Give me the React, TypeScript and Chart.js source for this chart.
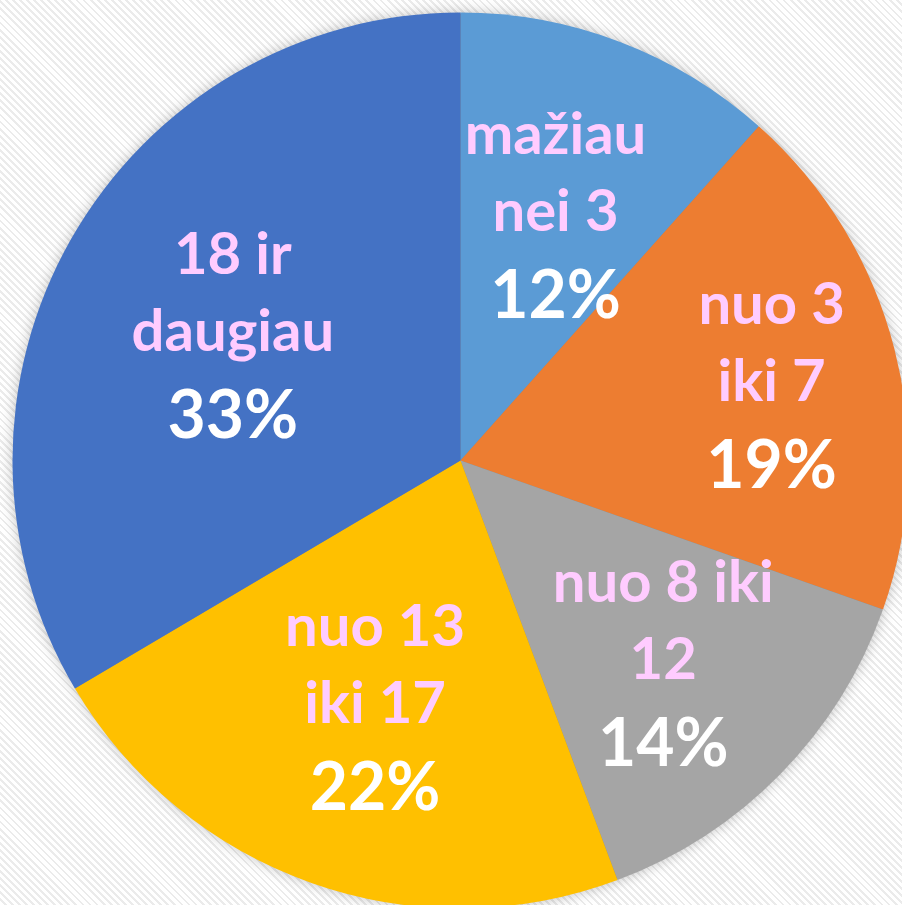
import React, { useEffect, useRef } from "react";
import { Chart, registerables } from "chart.js";

Chart.register(...registerables);

const categories: string[][] = [
  ["mažiau", "nei 3"],
  ["nuo 3", "iki 7"],
  ["nuo 8 iki", "12"],
  ["nuo 13", "iki 17"],
  ["18 ir", "daugiau"],
];
const values: number[] = [11.6, 18.8, 13.9, 22.2, 33.5];
const percentLabels: string[] = ["12%", "19%", "14%", "22%", "33%"];
const colors: string[] = ["#5B9BD5", "#ED7D31", "#A5A5A5", "#FFC000", "#4472C4"];
const labelRadius: number[] = [0.595, 0.717, 0.634, 0.573, 0.585];

const FONT = "Lato, 'Open Sans', sans-serif";

const shadowPlugin = {
  id: "pieShadow",
  beforeDatasetsDraw(chart: any) {
    const meta = chart.getDatasetMeta(0);
    const a = meta.data[0];
    if (!a) return;
    const ctx = chart.ctx;
    ctx.save();
    ctx.shadowColor = "rgba(0,0,0,0.28)";
    ctx.shadowBlur = 14;
    ctx.shadowOffsetX = 0;
    ctx.shadowOffsetY = 0;
    ctx.fillStyle = "#888";
    ctx.beginPath();
    ctx.arc(a.x, a.y, a.outerRadius - 1, 0, Math.PI * 2);
    ctx.fill();
    ctx.restore();
  },
};

const labelPlugin = {
  id: "sliceLabels",
  afterDatasetsDraw(chart: any) {
    const meta = chart.getDatasetMeta(0);
    const ctx = chart.ctx;
    ctx.save();
    ctx.textAlign = "center";
    ctx.textBaseline = "alphabetic";
    meta.data.forEach((arc: any, i: number) => {
      const mid = (arc.startAngle + arc.endAngle) / 2;
      const r = arc.outerRadius * labelRadius[i];
      const cx = arc.x + Math.cos(mid) * r;
      const cy = arc.y + Math.sin(mid) * r;
      const lines = categories[i];
      const b1 = cy + 20;
      const b0 = b1 - 77;
      const b2 = b1 + 87;
      ctx.fillStyle = "#FFCCFF";
      ctx.font = `bold 58px ${FONT}`;
      ctx.fillText(lines[0], cx, b0);
      ctx.fillText(lines[1], cx, b1);
      ctx.fillStyle = "#FFFFFF";
      ctx.font = `bold 66px ${FONT}`;
      ctx.fillText(percentLabels[i], cx, b2);
    });
    ctx.restore();
  },
};

export default function App() {
  const ref = useRef<HTMLCanvasElement>(null);
  useEffect(() => {
    if (!ref.current) return;
    const chart = new Chart(ref.current, {
      type: "pie",
      data: {
        labels: categories.map((c) => c.join(" ")),
        datasets: [
          {
            data: values,
            backgroundColor: colors,
            borderWidth: 0,
          },
        ],
      },
      options: {
        responsive: false,
        animation: false,
        layout: { padding: 12.5 },
        plugins: {
          legend: { display: false },
          tooltip: { enabled: false },
        },
      },
      plugins: [shadowPlugin, labelPlugin],
    });
    return () => chart.destroy();
  }, []);
  return (
    <div
      style={{
        position: "fixed",
        left: 0,
        top: 0,
        width: 902,
        height: 905,
        overflow: "hidden",
        background:
          "repeating-linear-gradient(45deg, #ffffff 0px, #ffffff 3px, #ebebeb 3px, #ebebeb 5px)",
      }}
    >
      <canvas
        ref={ref}
        width={921}
        height={921}
        style={{ position: "absolute", left: 0, top: 0, display: "block" }}
      />
    </div>
  );
}
